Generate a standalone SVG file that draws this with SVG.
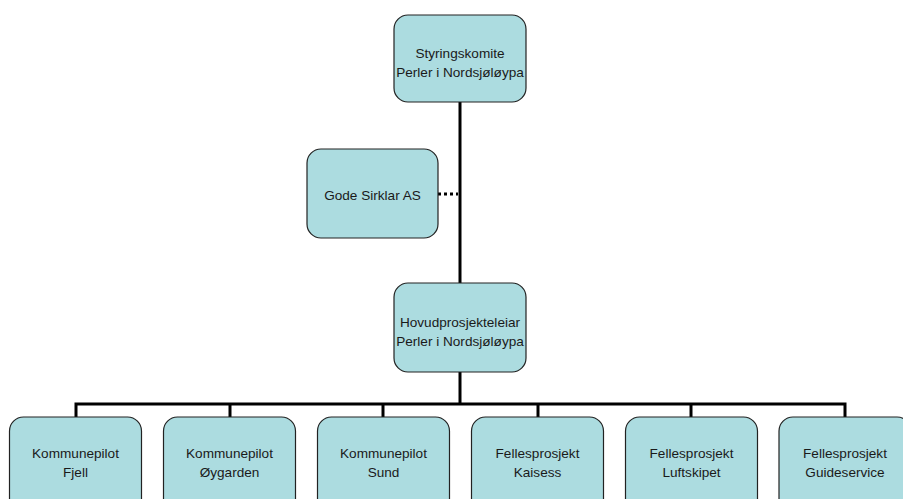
<svg xmlns="http://www.w3.org/2000/svg" width="903" height="499" viewBox="0 0 903 499">
<style>
.box{fill:#acdce0;stroke:#222;stroke-width:1.2}
.t{font-family:"Liberation Sans",Arial,sans-serif;font-size:13.6px;fill:#1a1a1a;text-anchor:middle}
.c{stroke:#000;stroke-width:3;fill:none}
.d{stroke:#000;stroke-width:3;fill:none;stroke-dasharray:3,3}
</style>
<rect width="903" height="499" fill="#fff"/>
<g id="connectors">
<line class="c" x1="460" y1="101" x2="460" y2="283"/>
<line class="c" x1="460" y1="372" x2="460" y2="404"/>
<line class="d" x1="438" y1="194" x2="458" y2="194"/>
<polyline class="c" points="76,417 76,404 845,404 845,417"/>
<line class="c" x1="230" y1="404" x2="230" y2="417"/>
<line class="c" x1="383" y1="404" x2="383" y2="417"/>
<line class="c" x1="538" y1="404" x2="538" y2="417"/>
<line class="c" x1="691" y1="404" x2="691" y2="417"/>
</g>
<g id="styringskomite">
<rect class="box" x="394" y="15" width="132" height="87" rx="14"/>
<text class="t" x="460" y="58">Styringskomite</text>
<text class="t" x="460" y="77">Perler i Nordsjøløypa</text>
</g>
<g id="gode-sirklar">
<rect class="box" x="307" y="149" width="131" height="89" rx="14"/>
<text class="t" x="372.5" y="200">Gode Sirklar AS</text>
</g>
<g id="hovudprosjekteleiar">
<rect class="box" x="394" y="283" width="132" height="89" rx="14"/>
<text class="t" x="460" y="327">Hovudprosjekteleiar</text>
<text class="t" x="460" y="346">Perler i Nordsjøløypa</text>
</g>
<g id="fjell">
<rect class="box" x="9.5" y="417" width="132" height="100" rx="14"/>
<text class="t" x="75.5" y="458">Kommunepilot</text>
<text class="t" x="75.5" y="477">Fjell</text>
</g>
<g id="oygarden">
<rect class="box" x="163.5" y="417" width="132" height="100" rx="14"/>
<text class="t" x="229.5" y="458">Kommunepilot</text>
<text class="t" x="229.5" y="477">Øygarden</text>
</g>
<g id="sund">
<rect class="box" x="317.5" y="417" width="132" height="100" rx="14"/>
<text class="t" x="383.5" y="458">Kommunepilot</text>
<text class="t" x="383.5" y="477">Sund</text>
</g>
<g id="kaisess">
<rect class="box" x="471.5" y="417" width="132" height="100" rx="14"/>
<text class="t" x="537.5" y="458">Fellesprosjekt</text>
<text class="t" x="537.5" y="477">Kaisess</text>
</g>
<g id="luftskipet">
<rect class="box" x="625.5" y="417" width="132" height="100" rx="14"/>
<text class="t" x="691.5" y="458">Fellesprosjekt</text>
<text class="t" x="691.5" y="477">Luftskipet</text>
</g>
<g id="guideservice">
<rect class="box" x="779" y="417" width="132" height="100" rx="14"/>
<text class="t" x="845" y="458">Fellesprosjekt</text>
<text class="t" x="845" y="477">Guideservice</text>
</g>
</svg>
